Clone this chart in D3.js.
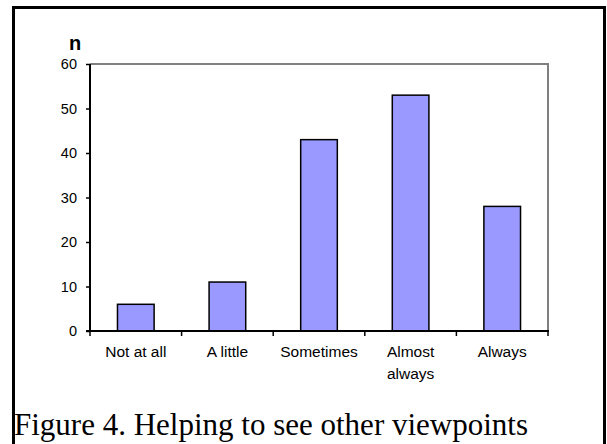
<!DOCTYPE html>
<html>
<head>
<meta charset="utf-8">
<script src="https://cdn.jsdelivr.net/npm/d3@7/dist/d3.min.js"></script>
<style>
  html, body { margin: 0; padding: 0; background: #fff; }
  svg { display: block; }
</style>
</head>
<body>
<svg id="chart" width="607" height="444"></svg>
<script>
const categories = ["Not at all", "A little", "Sometimes", "Almost always", "Always"];
const categoryLines = [["Not at all"], ["A little"], ["Sometimes"], ["Almost", "always"], ["Always"]];
const values = [6, 11, 43, 53, 28];
const yTicks = [0, 10, 20, 30, 40, 50, 60];
const yLabel = "n";
const caption = "Figure 4. Helping to see other viewpoints";

const svg = d3.select("#chart");
const pLeft = 90, pRight = 548, pTop = 64, pBottom = 331;

// outer frame
svg.append("rect")
  .attr("x", 13.5).attr("y", 7.5).attr("width", 591).attr("height", 460)
  .attr("fill", "none").attr("stroke", "#000").attr("stroke-width", 3);

const x = d3.scaleBand().domain(categories).range([pLeft, pRight])
  .paddingInner(0.6).paddingOuter(0.3);
const y = d3.scaleLinear().domain([0, 60]).range([pBottom, pTop]);

// plot area border (top & right, grey)
svg.append("path")
  .attr("d", `M${pLeft},${pTop}H${pRight}V${pBottom}`)
  .attr("fill", "none").attr("stroke", "#808080").attr("stroke-width", 2);

// bars
svg.selectAll("rect.bar").data(values).join("rect")
  .attr("class", "bar")
  .attr("x", (d, i) => x(categories[i]))
  .attr("y", d => y(d))
  .attr("width", x.bandwidth())
  .attr("height", d => y(0) - y(d))
  .attr("fill", "#9999FF")
  .attr("stroke", "#000")
  .attr("stroke-width", 1.5);

// y axis
const yAxis = d3.axisLeft(y).tickValues(yTicks).tickSize(4).tickPadding(9);
const gy = svg.append("g").attr("transform", `translate(${pLeft},0)`).call(yAxis);
gy.select(".domain").attr("stroke", "#000").attr("stroke-width", 2)
  .attr("d", `M0,${pTop}V${pBottom}`);
gy.selectAll(".tick line").attr("stroke", "#000").attr("stroke-width", 1.5);
gy.selectAll(".tick text").attr("font-family", "Liberation Sans, Arial, sans-serif")
  .attr("font-size", 14.5).attr("fill", "#000");

// x axis line
svg.append("line").attr("x1", pLeft - 4).attr("x2", pRight + 1)
  .attr("y1", pBottom).attr("y2", pBottom)
  .attr("stroke", "#000").attr("stroke-width", 2);

// x boundary ticks
const bounds = d3.range(categories.length + 1).map(i => pLeft + i * x.step());
svg.selectAll("line.xt").data(bounds).join("line")
  .attr("class", "xt")
  .attr("x1", d => d).attr("x2", d => d)
  .attr("y1", pBottom).attr("y2", pBottom + 5)
  .attr("stroke", "#000").attr("stroke-width", 1.5);

// category labels
categoryLines.forEach((lines, i) => {
  const cx = x(categories[i]) + x.bandwidth() / 2;
  lines.forEach((t, j) => {
    svg.append("text")
      .attr("x", cx).attr("y", 357 + j * 22)
      .attr("text-anchor", "middle")
      .attr("font-family", "Liberation Sans, Arial, sans-serif")
      .attr("font-size", 15.5)
      .attr("fill", "#000")
      .text(t);
  });
});

// y label
svg.append("text")
  .attr("x", 75).attr("y", 50)
  .attr("text-anchor", "middle")
  .attr("font-family", "Liberation Sans, Arial, sans-serif")
  .attr("font-size", 20).attr("font-weight", "bold")
  .text(yLabel);

// caption
svg.append("text")
  .attr("x", 14).attr("y", 435)
  .attr("font-family", "Liberation Serif, 'Times New Roman', serif")
  .attr("font-size", 31)
  .attr("fill", "#000")
  .text(caption);
</script>
</body>
</html>
